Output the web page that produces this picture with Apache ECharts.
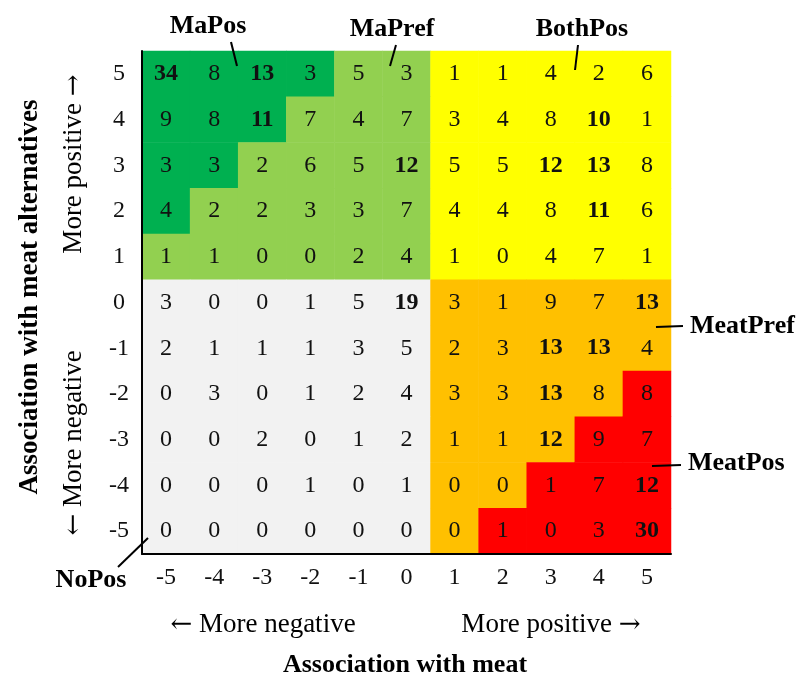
<!DOCTYPE html>
<html>
<head>
<meta charset="utf-8">
<script src="https://cdn.jsdelivr.net/npm/echarts@6/dist/echarts.min.js"></script>
<style>html,body{margin:0;padding:0;background:#fff}#c{width:796px;height:680px}</style>
</head>
<body>
<div id="c"></div>
<script>
// Axis categories (meat: x, meat alternatives: y)
const xLabels = ['-5','-4','-3','-2','-1','0','1','2','3','4','5'];
const yLabels = ['-5','-4','-3','-2','-1','0','1','2','3','4','5'];

// Counts, rows from y=5 (top) down to y=-5 (bottom), columns x=-5..5
const rowY5  = [34, 8, 13, 3, 5, 3, 1, 1, 4, 2, 6];
const rowY4  = [9, 8, 11, 7, 4, 7, 3, 4, 8, 10, 1];
const rowY3  = [3, 3, 2, 6, 5, 12, 5, 5, 12, 13, 8];
const rowY2  = [4, 2, 2, 3, 3, 7, 4, 4, 8, 11, 6];
const rowY1  = [1, 1, 0, 0, 2, 4, 1, 0, 4, 7, 1];
const rowY0  = [3, 0, 0, 1, 5, 19, 3, 1, 9, 7, 13];
const rowYm1 = [2, 1, 1, 1, 3, 5, 2, 3, 13, 13, 4];
const rowYm2 = [0, 3, 0, 1, 2, 4, 3, 3, 13, 8, 8];
const rowYm3 = [0, 0, 2, 0, 1, 2, 1, 1, 12, 9, 7];
const rowYm4 = [0, 0, 0, 1, 0, 1, 0, 0, 1, 7, 12];
const rowYm5 = [0, 0, 0, 0, 0, 0, 0, 1, 0, 3, 30];
const rows = [rowY5, rowY4, rowY3, rowY2, rowY1, rowY0, rowYm1, rowYm2, rowYm3, rowYm4, rowYm5];

// Group of each cell (same order): D=MaPos, L=MaPref, Y=BothPos, G=NoPos, O=MeatPref, R=MeatPos
const groupRows = [
  'DDDDLLYYYYY',
  'DDDLLLYYYYY',
  'DDLLLLYYYYY',
  'DLLLLLYYYYY',
  'LLLLLLYYYYY',
  'GGGGGGOOOOO',
  'GGGGGGOOOOO',
  'GGGGGGOOOOR',
  'GGGGGGOOORR',
  'GGGGGGOORRR',
  'GGGGGGORRRR'
];
const groupColors = {D:'#00B050', L:'#92D050', Y:'#FFFF00', G:'#F2F2F2', O:'#FFC000', R:'#FF0000'};

const FONT = '"Liberation Serif", "DejaVu Serif", serif';
const ARROWFONT = '26px "DejaVu Serif", serif';

const data = [];
rows.forEach((row, r) => {
  const yi = yLabels.length - 1 - r;
  row.forEach((v, xi) => {
    data.push({
      value: [xi, yi, v],
      itemStyle: {color: groupColors[groupRows[r][xi]]},
      label: {fontWeight: v >= 10 ? 'bold' : 'normal'}
    });
  });
});

const chart = echarts.init(document.getElementById('c'), null, {renderer: 'canvas'});

const txt = (text, x, y, opts) => Object.assign({
  type: 'text', x: x, y: y, z: 100,
  style: Object.assign({
    text: text, font: '27px ' + FONT, fill: '#000', align: 'center', verticalAlign: 'middle',
    rich: {a: {font: ARROWFONT, fill: '#000'}, t: {font: '27px ' + FONT, fill: '#000'}}
  }, opts || {})
});
const line = (x1, y1, x2, y2) => ({
  type: 'line', z: 100, shape: {x1: x1, y1: y1, x2: x2, y2: y2},
  style: {stroke: '#000', lineWidth: 2}
});
const BOLD = 'bold 26px ' + FONT;

const option = {
  animation: false,
  backgroundColor: '#fff',
  grid: {left: 142, right: 125, top: 51, bottom: 126, containLabel: false},
  xAxis: {
    type: 'category', data: xLabels, z: 10,
    axisLine: {show: true, lineStyle: {color: '#000', width: 2}},
    axisTick: {show: false}, splitLine: {show: false},
    axisLabel: {color: '#111', fontFamily: FONT, fontSize: 24, margin: 12}
  },
  yAxis: {
    type: 'category', data: yLabels, z: 10,
    axisLine: {show: true, lineStyle: {color: '#000', width: 2}},
    axisTick: {show: false}, splitLine: {show: false},
    axisLabel: {color: '#111', fontFamily: FONT, fontSize: 24, margin: 23, align: 'center'}
  },
  series: [{
    type: 'heatmap',
    data: data,
    itemStyle: {borderWidth: 0},
    label: {show: true, color: '#111', fontFamily: FONT, fontSize: 24,
      formatter: p => String(p.value[2])},
    emphasis: {disabled: true}
  }],
  graphic: [
    // axis sub-titles
    txt('{a|\u2190}{t| More negative}', 263, 625),
    txt('{t|More positive }{a|\u2192}', 551, 625),
    txt('Association with meat', 405, 665, {font: BOLD}),
    Object.assign(txt('{t|More positive }{a|\u2192}', 74, 164), {rotation: Math.PI / 2}),
    Object.assign(txt('{a|\u2190}{t| More negative}', 74, 443), {rotation: Math.PI / 2}),
    Object.assign(txt('Association with meat alternatives', 30, 297, {font: 'bold 27px ' + FONT}), {rotation: Math.PI / 2}),
    // group annotations
    txt('MaPos', 208, 26, {font: BOLD}),
    line(231, 42, 237, 66),
    txt('MaPref', 392, 29, {font: BOLD}),
    line(396, 45, 390, 66),
    txt('BothPos', 582, 29, {font: BOLD}),
    line(578, 45, 575, 70),
    txt('MeatPref', 690, 326, {font: BOLD, align: 'left'}),
    line(656, 327, 683, 326),
    txt('MeatPos', 688, 463, {font: BOLD, align: 'left'}),
    line(652, 466, 681, 465),
    txt('NoPos', 91, 580, {font: BOLD}),
    line(118, 567, 148, 538)
  ]
};
chart.setOption(option);
</script>
</body>
</html>
